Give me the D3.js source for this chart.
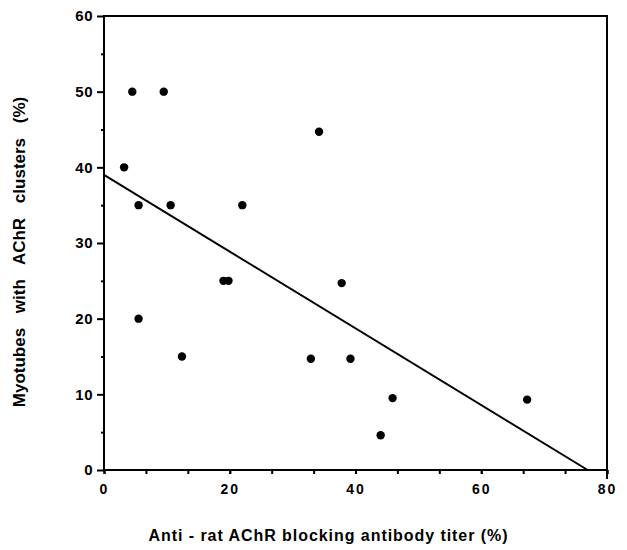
<!DOCTYPE html>
<html>
<head>
<meta charset="utf-8">
<script src="https://cdn.jsdelivr.net/npm/d3@7"></script>
<style>
  body { margin: 0; background: #fff; }
  svg { display: block; }
  text { font-family: "Liberation Sans", Arial, Helvetica, sans-serif; font-weight: bold; fill: #000; }
</style>
</head>
<body>
<svg id="chart" width="627" height="550"></svg>
<script>
'use strict';

// anti-rat AChR blocking antibody titer (%) vs myotubes with AChR clusters (%)
var titer = [4.5, 9.5, 3.2, 5.5, 10.6, 22.0, 5.5, 12.4, 19.0, 19.8, 37.8, 32.9, 39.2, 45.9, 44.0, 67.3, 34.2];
var clusters = [50, 50, 40, 35, 35, 35, 20, 15, 25, 25, 24.7, 14.7, 14.7, 9.5, 4.6, 9.3, 44.7];

// regression line
var fitIntercept = 39;
var fitSlope = -0.507;

var xTickLabels = [0, 20, 40, 60, 80];
var yTickLabels = [0, 10, 20, 30, 40, 50, 60];

var plotLeft = 104, plotRight = 607, plotTop = 16, plotBottom = 470;

var svg = d3.select('#chart');

var x = d3.scaleLinear().domain([0, 80]).range([plotLeft, plotRight]);
var y = d3.scaleLinear().domain([0, 60]).range([plotBottom, plotTop]);

// minor ticks
svg.append('g')
    .attr('transform', 'translate(' + plotLeft + ',0)')
    .call(d3.axisLeft(y).tickValues(d3.range(5, 60, 10)).tickSize(3).tickFormat(''))
    .call(function (g) { g.select('.domain').remove(); });

svg.append('g')
    .attr('transform', 'translate(0,' + plotBottom + ')')
    .call(d3.axisBottom(x).tickValues(d3.range(0, 80.01, 20 / 3)).tickSize(4).tickFormat(''))
    .call(function (g) { g.select('.domain').remove(); });

// major ticks with labels
var yAxis = svg.append('g')
    .attr('transform', 'translate(' + plotLeft + ',0)')
    .call(d3.axisLeft(y).tickValues(yTickLabels).tickSize(7).tickPadding(4));
yAxis.select('.domain').remove();
yAxis.selectAll('text').style('font-size', '15px').attr('font-family', null).attr('letter-spacing', 0.5);

var xAxis = svg.append('g')
    .attr('transform', 'translate(0,' + plotBottom + ')')
    .call(d3.axisBottom(x).tickValues(xTickLabels).tickSize(4).tickPadding(10));
xAxis.select('.domain').remove();
xAxis.selectAll('text').style('font-size', '14px').attr('font-family', null).attr('letter-spacing', 2);

svg.selectAll('.tick line').attr('stroke', '#000').attr('stroke-width', 2);

// frame: left, bottom, top and right (right edge runs down to the 80 tick)
var frame = svg.append('g').attr('stroke', '#000').attr('stroke-width', 2).attr('fill', 'none');
frame.append('path').attr('d', 'M' + plotLeft + ',' + (plotTop - 1) + 'V' + plotBottom + 'H' + plotRight);
frame.append('path').attr('d', 'M' + plotLeft + ',' + plotTop + 'H' + plotRight + 'V' + (plotBottom + 9));

// regression line
var xEnd = -fitIntercept / fitSlope;
svg.append('line')
    .attr('x1', x(0)).attr('y1', y(fitIntercept))
    .attr('x2', x(xEnd)).attr('y2', y(0))
    .attr('stroke', '#000').attr('stroke-width', 2);

// points
svg.append('g').selectAll('circle')
    .data(titer)
    .join('circle')
    .attr('cx', function (d) { return x(d); })
    .attr('cy', function (d, i) { return y(clusters[i]); })
    .attr('r', 4.2)
    .attr('fill', '#000');

// axis titles
svg.append('text')
    .attr('transform', 'translate(25,252) rotate(-90)')
    .attr('text-anchor', 'middle')
    .attr('word-spacing', 10)
    .style('font-size', '17px')
    .text('Myotubes with AChR clusters (%)');

svg.append('text')
    .attr('x', 328).attr('y', 541)
    .attr('text-anchor', 'middle')
    .attr('textLength', 359)
    .attr('lengthAdjust', 'spacing')
    .style('font-size', '16px')
    .text('Anti - rat AChR blocking antibody  titer (%)');
</script>
</body>
</html>
